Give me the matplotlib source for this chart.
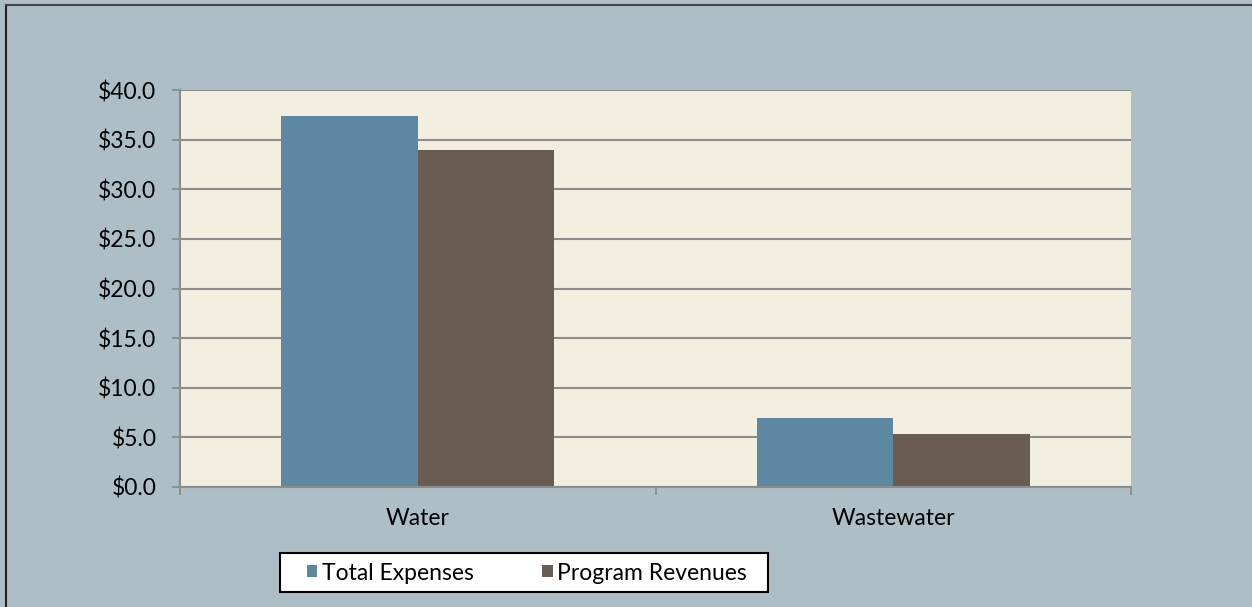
import matplotlib.pyplot as plt
from matplotlib.patches import Rectangle
from matplotlib.lines import Line2D
import numpy as np

categories = ['Water', 'Wastewater']
series_names = ['Total Expenses', 'Program Revenues']
total_expenses = [37.4, 7.0]
program_revenues = [34.0, 5.3]
y_ticks = [0, 5, 10, 15, 20, 25, 30, 35, 40]

colors = ['#5E87A1', '#6A5C52']
bg_color = '#ADBEC7'
plot_color = '#F2EEE0'
axis_color = '#8C8C8C'


def main() -> None:
    plt.rcParams['font.family'] = ['Lato', 'DejaVu Sans']
    fig = plt.figure(figsize=(12.52, 6.07), dpi=100, facecolor=bg_color)
    W, H = 1252, 607
    ax = fig.add_axes([180 / W, 1 - 487 / H, (1131 - 180) / W, (487 - 90) / H])
    ax.set_facecolor(plot_color)

    # outer frame of the chart: only left and top edges are inside the image
    fig.lines.append(Line2D([5.5 / W, 5.5 / W], [0, 1 - 4.5 / H], transform=fig.transFigure,
                            color='#222222', linewidth=1.5))
    fig.lines.append(Line2D([5.5 / W, 1], [1 - 4.5 / H, 1 - 4.5 / H], transform=fig.transFigure,
                            color='#444444', linewidth=1.5))

    x = np.arange(len(categories))
    bw = 136.5 / 475.5
    ax.bar(x - bw / 2, total_expenses, bw, color=colors[0], label=series_names[0], zorder=3)
    ax.bar(x + bw / 2, program_revenues, bw, color=colors[1], label=series_names[1], zorder=3)

    ax.set_xlim(-0.5, 1.5)
    ax.set_ylim(0, 40)
    ax.set_yticks(y_ticks)
    ax.set_yticklabels([f'${v:.1f}' for v in y_ticks])
    ax.set_xticks(x)
    ax.set_xticklabels(categories)
    ax.set_xticks([-0.5, 0.5, 1.5], minor=True)
    ax.tick_params(axis='x', which='major', length=0, pad=15, labelsize=16.5)
    ax.tick_params(axis='x', which='minor', length=6, width=1.3, color=axis_color, direction='out')
    ax.tick_params(axis='y', length=6, width=1.3, color=axis_color, pad=11, labelsize=16.5)

    ax.grid(axis='y', color=axis_color, linewidth=1.5, zorder=1)
    for side in ['top', 'right']:
        ax.spines[side].set_visible(False)
    for side in ['left', 'bottom']:
        ax.spines[side].set_color(axis_color)
        ax.spines[side].set_linewidth(1.5)
        ax.spines[side].set_zorder(4)

    # legend box
    fig.patches.append(Rectangle((280 / W, 1 - 592 / H), (768 - 280) / W, (592 - 553) / H,
                                 transform=fig.transFigure, facecolor='white',
                                 edgecolor='black', linewidth=1.5, zorder=1))
    fig.legend(loc='center', bbox_to_anchor=(527 / W, 1 - 573 / H), ncol=2,
               frameon=False, fontsize=16.5, handlelength=0.45, handleheight=0.45,
               handletextpad=0.2, columnspacing=3.0, borderpad=0, borderaxespad=0)

    fig.savefig('out.png', dpi=100, facecolor=bg_color)


if __name__ == '__main__':
    main()
